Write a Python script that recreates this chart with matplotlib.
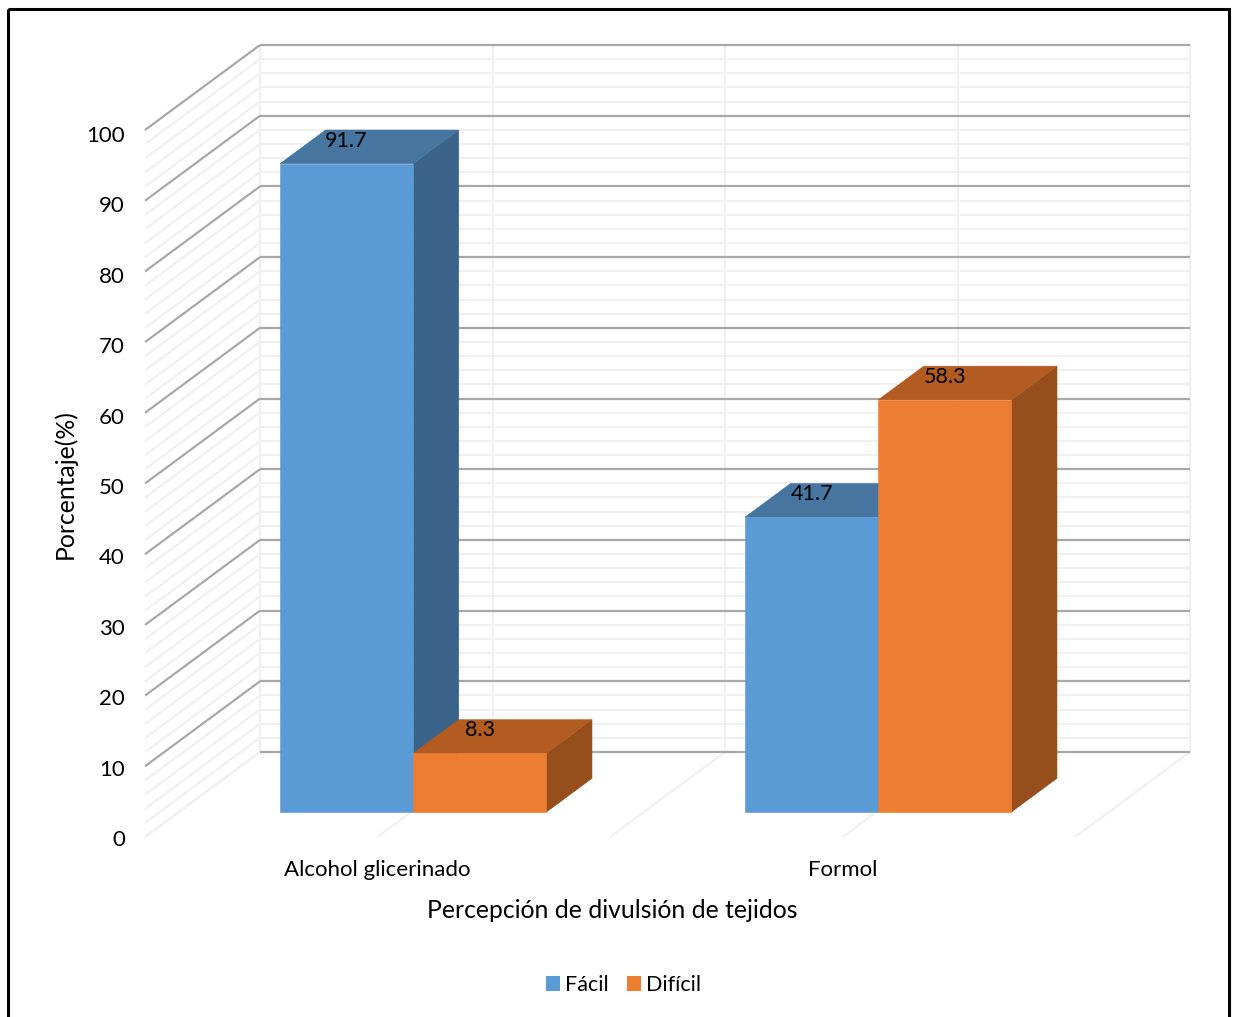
import matplotlib
matplotlib.use('Agg')
import matplotlib.pyplot as plt
from matplotlib.patches import Patch, Polygon, Rectangle

plt.rcParams['font.family'] = ['Lato', 'DejaVu Sans']

categories = ['Alcohol glicerinado', 'Formol']
series_names = ['Fácil', 'Difícil']
facil = [91.7, 41.7]
dificil = [8.3, 58.3]
y_ticks = [0, 10, 20, 30, 40, 50, 60, 70, 80, 90, 100]
y_minor = list(range(0, 101, 2))

# face colours per series: front, top, side
blue = ['#5B9BD5', '#4675A0', '#3A6489']
orange = ['#ED7D31', '#B35C21', '#964E1C']
major_grid = '#a8a8a8'
minor_grid = '#f0f0f0'
font_size = 16

fig = plt.figure(figsize=(12.33, 10.17), dpi=100)
ax = fig.add_axes([0, 0, 1, 1])
ax.set_xlim(0, 1233)
ax.set_ylim(1017, 0)
ax.axis('off')


# oblique projection: x in category units, v = value, d = depth 0..1
def proj(x, v, d=0.0):
    return 145 + 465 * x + 115 * d, 837 - 7.07 * v - 85 * d


def line3d(p, q, **kw):
    a, b = proj(*p), proj(*q)
    ax.plot([a[0], b[0]], [a[1], b[1]], solid_capstyle='butt', **kw)


# outer frame, runs off the bottom edge
ax.add_patch(Rectangle((7.5, 8.5), 1221.5, 1030, fill=False, ec='black', lw=2.2))

# minor grid on back wall and side wall
for v in y_minor:
    if v in y_ticks and v != 0:
        continue
    line3d((0, v, 1), (2, v, 1), color=minor_grid, lw=1.5, zorder=1)
    line3d((0, v, 0), (0, v, 1), color=minor_grid, lw=1.5, zorder=1)

# vertical lines on the back wall and depth lines on the floor
for x in [0, 0.5, 1, 1.5, 2]:
    line3d((x, 0, 1), (x, 100, 1), color=minor_grid, lw=1.5, zorder=1)
    line3d((x, 0, 0), (x, 0, 1), color=minor_grid, lw=1.5, zorder=1)

# major grid
for v in y_ticks:
    line3d((0, v, 1), (2, v, 1), color=major_grid, lw=1.6, zorder=2)
    if v != 0:
        line3d((0, v, 0), (0, v, 1), color=major_grid, lw=1.6, zorder=2)

# bars
bar_w = 0.2865
gap = 0.2176
d0, d1 = 0.294, 0.69


def bar3d(x0, value, colors, label):
    x1 = x0 + bar_w
    front = [proj(x0, 0, d0), proj(x1, 0, d0), proj(x1, value, d0), proj(x0, value, d0)]
    top = [proj(x0, value, d0), proj(x1, value, d0), proj(x1, value, d1), proj(x0, value, d1)]
    side = [proj(x1, 0, d0), proj(x1, 0, d1), proj(x1, value, d1), proj(x1, value, d0)]
    # front face last so the darker side does not bleed past it
    for pts, c in zip([side, top, front], [colors[2], colors[1], colors[0]]):
        ax.add_patch(Polygon(pts, closed=True, fc=c, ec=c, lw=0.4, zorder=3))
    cx, cy = proj(x0 + bar_w / 2, value, d0)
    ax.text(cx, cy - 23, label, ha='center', va='center', fontsize=15.5, color='black', zorder=5)


for i in range(len(categories)):
    left = i + gap
    bar3d(left, facil[i], blue, str(facil[i]))
    bar3d(left + bar_w, dificil[i], orange, str(dificil[i]))

# value axis labels
for v in y_ticks:
    px, py = proj(0, v, 0)
    ax.text(125, py + 3 + v * 0.03, str(v), ha='right', va='center', fontsize=font_size, color='black')

# category labels
for i, c in enumerate(categories):
    px, _ = proj(i + 0.5, 0, 0)
    ax.text(px, 870, c, ha='center', va='center', fontsize=font_size, color='black')

ax.text(612, 910, 'Percepción de divulsión de tejidos', ha='center', va='center', fontsize=17.8, color='black')
ax.text(65, 484, 'Porcentaje(%)', ha='center', va='center', rotation=90, fontsize=17.8, color='black')

handles = [Patch(fc=blue[0], label=series_names[0]), Patch(fc=orange[0], label=series_names[1])]
fig.legend(handles=handles, loc='center', bbox_to_anchor=(623.5 / 1233, 1 - 985 / 1017), ncol=2,
           frameon=False, fontsize=15.5, handlelength=0.65, handleheight=0.65,
           handletextpad=0.25, columnspacing=0.85, labelcolor='black')

fig.savefig('out.png', dpi=100)
